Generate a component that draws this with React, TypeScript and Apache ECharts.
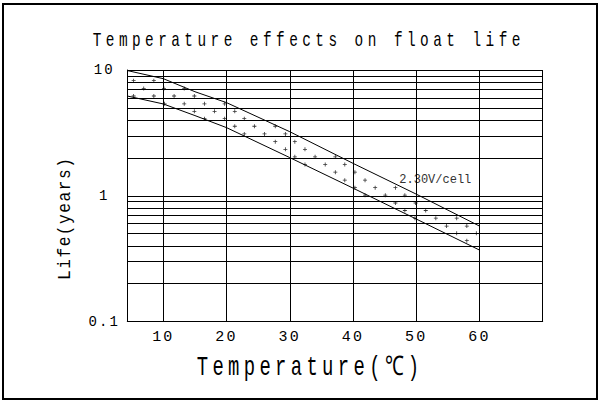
import React, { useEffect, useRef } from 'react';
import * as echarts from 'echarts';

const TITLE = 'Temperature effects on float life';
const X_NAME = 'Temperature(℃)';
const Y_NAME = 'Life(years)';
const BAND_LABEL = '2.30V/cell';

// vertical grid lines and x tick labels (°C)
const xGridValues = [10, 20, 30, 40, 50, 60, 70];
const xLabelValues = [10, 20, 30, 40, 50, 60];
// minor horizontal grid lines (years)
const minorLife = [0.2, 0.3, 0.4, 0.5, 0.6, 0.7, 0.8, 0.9, 2, 3, 4, 5, 6, 7, 8, 9];

// upper and lower bound of the float-life band
const upperTemp = [4.3, 10, 15, 20, 30, 40, 50, 60];
const upperLife = [9.9, 8.53, 6.72, 5.5, 3.23, 1.81, 1.03, 0.574];
const lowerTemp = [4.3, 10, 15, 20, 30, 40, 50, 60];
const lowerLife = [6.21, 5.37, 4.34, 3.48, 2.01, 1.15, 0.653, 0.37];

// dotted fill marks inside the band: one life value per row, temperatures of that row
const starLife = [8.22, 7.13, 6.21, 5.38, 4.69, 4.1, 3.57, 3.1, 2.69, 2.34, 2.04, 1.77, 1.54, 1.33, 1.16, 1.01, 0.876, 0.763, 0.663, 0.574, 0.503, 0.439];
const starTemps = [
  [5.3, 8.5],
  [6.9, 10.1, 13.3],
  [5.3, 8.5, 11.7, 14.9],
  [10.2, 13.3, 16.5, 19.7],
  [14.9, 18.1, 21.3],
  [16.5, 19.7, 22.8],
  [21.3, 24.4, 27.7],
  [22.8, 26.0, 29.3],
  [27.7, 30.8],
  [29.3, 32.4],
  [30.8, 34.0, 37.2],
  [32.4, 35.6, 38.7],
  [37.2, 40.3],
  [38.7, 41.9],
  [40.3, 43.5, 46.7],
  [41.9, 45.1, 48.2],
  [46.7, 49.9],
  [48.2, 51.5],
  [49.8, 53.1, 56.4],
  [54.8, 58.0],
  [56.4, 59.5],
  [58.0],
];

const FONT = '"Liberation Mono", "DejaVu Sans Mono", monospace';

const spacingFor = (s: string): number => {
  if (s === TITLE) return 6.2;
  if (s === X_NAME) return 6.2;
  if (s === Y_NAME) return 1.8;
  if (s === BAND_LABEL) return 0;
  return 2.2;
};

const plusSymbol = 'path://M-0.2,-1H0.2V-0.2H1V0.2H0.2V1H-0.2V0.2H-1V-0.2H-0.2Z';

export default function App() {
  const ref = useRef<HTMLDivElement>(null);
  useEffect(() => {
    if (!ref.current) return;
    const chart = echarts.init(ref.current, null, { renderer: 'svg' });
    const stars: number[][] = [];
    starLife.forEach((life, i) => {
      starTemps[i].forEach((t) => stars.push([t, life]));
    });
    const option: any = {
      animation: false,
      backgroundColor: '#fff',
      grid: { left: 127.3, top: 70, width: 415.4, height: 251.5, containLabel: false },
      xAxis: {
        type: 'value',
        min: 4.3,
        max: 70,
        axisLine: { show: true, onZero: false, lineStyle: { color: '#000', width: 1 } },
        axisTick: { show: false, customValues: xGridValues },
        axisLabel: { customValues: xLabelValues, color: '#000', fontFamily: FONT, fontSize: 15, margin: 8 },
        splitLine: { show: true, lineStyle: { color: '#000', width: 1 } },
      },
      yAxis: {
        type: 'log',
        logBase: 10,
        min: 0.1,
        max: 10,
        axisLine: { show: true, lineStyle: { color: '#000', width: 1 } },
        axisTick: { show: false },
        axisLabel: { color: '#000', fontFamily: FONT, fontSize: 14, align: 'center', margin: 23 },
        splitLine: { show: true, lineStyle: { color: '#000', width: 1 } },
      },
      series: [
        {
          type: 'line',
          data: upperTemp.map((t, i) => [t, upperLife[i]]),
          symbol: 'none',
          lineStyle: { color: '#000', width: 1 },
          silent: true,
        },
        {
          type: 'line',
          data: lowerTemp.map((t, i) => [t, lowerLife[i]]),
          symbol: 'none',
          lineStyle: { color: '#000', width: 1 },
          silent: true,
        },
        {
          type: 'scatter',
          data: stars,
          symbol: plusSymbol,
          symbolSize: 4,
          itemStyle: { color: '#000' },
          silent: true,
          markLine: {
            silent: true,
            symbol: ['none', 'none'],
            label: { show: false },
            lineStyle: { color: '#000', width: 1, type: 'solid' },
            data: minorLife.map((v) => ({ yAxis: v })),
          },
        },
      ],
      graphic: [
        {
          type: 'rect',
          shape: { x: 3, y: 4, width: 594, height: 395 },
          style: { fill: 'none', stroke: '#000', lineWidth: 2 },
          silent: true,
        },
        {
          type: 'text',
          x: 92.7,
          y: 40.7,
          scaleX: 0.72,
          style: { text: TITLE, fill: '#000', fontFamily: FONT, fontSize: 20, align: 'left', verticalAlign: 'middle' },
        },
        {
          type: 'text',
          x: 196.7,
          y: 367.8,
          scaleX: 0.7,
          style: { text: X_NAME, fill: '#000', fontFamily: FONT, fontSize: 27, align: 'left', verticalAlign: 'middle' },
        },
        {
          type: 'text',
          x: 65,
          y: 280,
          rotation: Math.PI / 2,
          scaleX: 0.85,
          style: { text: Y_NAME, fill: '#000', fontFamily: FONT, fontSize: 19, align: 'left', verticalAlign: 'middle' },
        },
        {
          type: 'text',
          x: 399.3,
          y: 180,
          style: { text: BAND_LABEL, fill: '#333', fontFamily: FONT, fontSize: 12, align: 'left', verticalAlign: 'middle' },
        },
      ],
    };
    chart.setOption(option);
    const applySpacing = () => {
      const root = ref.current;
      if (!root) return;
      root.querySelectorAll('text').forEach((t) => {
        const s = t.textContent || '';
        (t as SVGTextElement).style.letterSpacing = spacingFor(s) + 'px';
      });
    };
    applySpacing();
    chart.on('finished', applySpacing);
    return () => {
      chart.dispose();
    };
  }, []);
  return <div ref={ref} style={{ position: 'fixed', left: 0, top: 0, width: 602, height: 401 }} />;
}
